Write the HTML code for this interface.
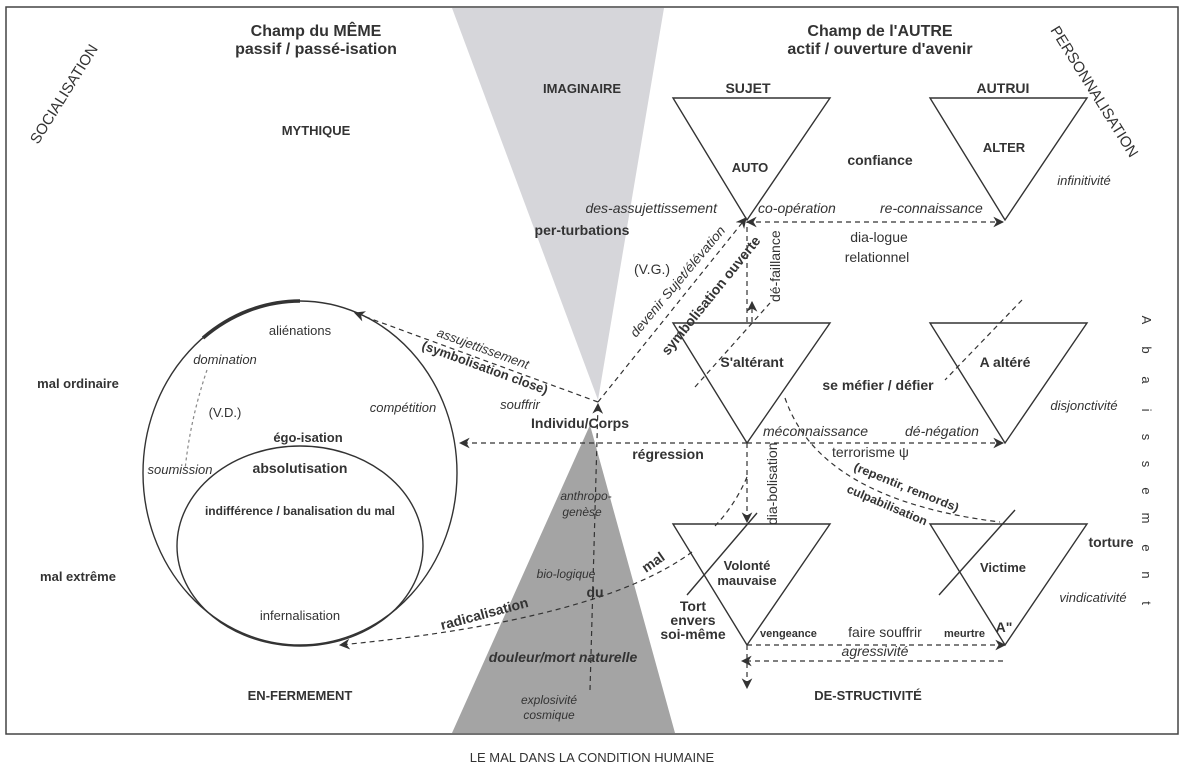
<!DOCTYPE html>
<html><head><meta charset="utf-8"><style>
html,body{margin:0;padding:0;background:#fff;}
svg{display:block;font-family:"Liberation Sans",sans-serif;}
.b{font-weight:bold;}
.i{font-style:italic;}
</style></head><body>
<svg width="1184" height="769" viewBox="0 0 1184 769" xmlns="http://www.w3.org/2000/svg">
<defs>
<marker id="a" viewBox="0 0 10 10" refX="9" refY="5" markerWidth="9" markerHeight="9" orient="auto-start-reverse"><path d="M0,0 L10,5 L0,10 L3,5 z" fill="#333"/></marker>
</defs>
<rect x="6" y="7" width="1172" height="727" fill="none" stroke="#444" stroke-width="1.5"/>
<polygon points="452,8 664,8 598,400" fill="#d6d6da"/>
<polygon points="590,425 452,733 675,733" fill="#a4a4a4"/>
<g fill="none" stroke="#333" stroke-width="1.4">
<polygon points="673,98 830,98 747,220"/>
<polygon points="930,98 1087,98 1005,220"/>
<polygon points="673,323 830,323 747,443"/>
<polygon points="930,323 1087,323 1005,443"/>
<polygon points="673,524 830,524 747,645"/>
<polygon points="930,524 1087,524 1005,645"/>
<ellipse cx="300" cy="473" rx="157" ry="172"/>
<ellipse cx="300" cy="546" rx="123" ry="100"/>
<path d="M203,338 A157,172 0 0 1 300,301" stroke-width="3.5"/>
<line x1="687" y1="595" x2="757" y2="513"/>
<line x1="939" y1="595" x2="1015" y2="510"/>
</g>
<g fill="none" stroke="#333" stroke-width="1.2" stroke-dasharray="5,4">
<line x1="598" y1="402" x2="355" y2="313" marker-end="url(#a)"/>
<line x1="598" y1="402" x2="746" y2="218" marker-end="url(#a)"/>
<line x1="747" y1="443" x2="460" y2="443" marker-end="url(#a)"/>
<line x1="747" y1="443" x2="1003" y2="443" marker-end="url(#a)"/>
<line x1="747" y1="443" x2="747" y2="522" marker-end="url(#a)"/>
<line x1="590" y1="690" x2="598" y2="404" marker-end="url(#a)"/>
<line x1="747" y1="222" x2="1003" y2="222" marker-start="url(#a)" marker-end="url(#a)"/>
<line x1="747" y1="322" x2="747" y2="222"/>
<line x1="752" y1="322" x2="752" y2="302" marker-end="url(#a)"/>
<line x1="695" y1="387" x2="770" y2="303"/>
<line x1="747" y1="645" x2="1005" y2="645" marker-end="url(#a)"/>
<line x1="1003" y1="661" x2="742" y2="661" marker-end="url(#a)"/>
<line x1="747" y1="645" x2="747" y2="688" marker-end="url(#a)"/>
<path d="M692,552 Q600,620 340,645" marker-end="url(#a)"/>
<path d="M747,477 Q735,505 715,526"/>
<path d="M785,398 Q820,500 1000,522"/>
<path d="M207,370 Q190,420 185,470" stroke="#888" stroke-dasharray="3,3"/>
<line x1="1022" y1="300" x2="945" y2="380"/>
</g>
<g fill="#333" font-size="14">
<text x="316" y="36" text-anchor="middle" class="b" font-size="16">Champ du MÊME</text>
<text x="316" y="54" text-anchor="middle" class="b" font-size="16">passif / passé-isation</text>
<text x="880" y="36" text-anchor="middle" class="b" font-size="16">Champ de l'AUTRE</text>
<text x="880" y="54" text-anchor="middle" class="b" font-size="16">actif / ouverture d'avenir</text>
<text transform="translate(38,145) rotate(-58)" font-size="15">SOCIALISATION</text>
<text transform="translate(1050,30) rotate(58)" font-size="15">PERSONNALISATION</text>
<text x="582" y="93" text-anchor="middle" class="b" font-size="13">IMAGINAIRE</text>
<text x="316" y="135" text-anchor="middle" class="b" font-size="13">MYTHIQUE</text>
<text x="748" y="93" text-anchor="middle" class="b">SUJET</text>
<text x="1003" y="93" text-anchor="middle" class="b">AUTRUI</text>
<text x="750" y="172" text-anchor="middle" class="b" font-size="13">AUTO</text>
<text x="1004" y="152" text-anchor="middle" class="b" font-size="13">ALTER</text>
<text x="880" y="165" text-anchor="middle" class="b">confiance</text>
<text x="1084" y="185" text-anchor="middle" class="i" font-size="13">infinitivité</text>
<text x="717" y="213" text-anchor="end" class="i">des-assujettissement</text>
<text x="758" y="213" class="i">co-opération</text>
<text x="880" y="213" class="i">re-connaissance</text>
<text x="582" y="235" text-anchor="middle" class="b">per-turbations</text>
<text x="879" y="242" text-anchor="middle">dia-logue</text>
<text x="877" y="262" text-anchor="middle">relationnel</text>
<text x="652" y="274" text-anchor="middle">(V.G.)</text>
<text transform="translate(636,338) rotate(-50)" class="i" font-size="13" textLength="140" lengthAdjust="spacingAndGlyphs">devenir Sujet/élévation</text>
<text transform="translate(668,356) rotate(-51)" class="b" font-size="14" textLength="148" lengthAdjust="spacingAndGlyphs">symbolisation ouverte</text>
<text transform="translate(780,302) rotate(-90)" font-size="14">dé-faillance</text>
<text x="752" y="367" text-anchor="middle" class="b">S'altérant</text>
<text x="1005" y="367" text-anchor="middle" class="b">A altéré</text>
<text x="878" y="390" text-anchor="middle" class="b">se méfier / défier</text>
<text x="1084" y="410" text-anchor="middle" class="i" font-size="13">disjonctivité</text>
<text transform="translate(436,336) rotate(20)" class="i" font-size="13">assujettissement</text>
<text transform="translate(421,349) rotate(20)" class="b" font-size="13">(symbolisation close)</text>
<text x="520" y="409" text-anchor="middle" class="i" font-size="13">souffrir</text>
<text x="580" y="428" text-anchor="middle" class="b">Individu/Corps</text>
<text x="668" y="459" text-anchor="middle" class="b">régression</text>
<text x="763" y="436" class="i">méconnaissance</text>
<text x="905" y="436" class="i">dé-négation</text>
<text x="832" y="457">terrorisme ψ</text>
<text transform="translate(853,470) rotate(22)" class="b" font-size="12" textLength="112" lengthAdjust="spacingAndGlyphs">(repentir, remords)</text>
<text transform="translate(846,492) rotate(23)" class="b" font-size="12" textLength="86" lengthAdjust="spacingAndGlyphs">culpabilisation</text>
<text transform="translate(777,525) rotate(-90)" font-size="14">dia-bolisation</text>
<text x="300" y="335" text-anchor="middle" font-size="13">aliénations</text>
<text x="225" y="364" text-anchor="middle" class="i" font-size="13">domination</text>
<text x="78" y="388" text-anchor="middle" class="b" font-size="13">mal ordinaire</text>
<text x="225" y="417" text-anchor="middle" font-size="13">(V.D.)</text>
<text x="403" y="412" text-anchor="middle" class="i" font-size="13">compétition</text>
<text x="308" y="442" text-anchor="middle" class="b" font-size="13">égo-isation</text>
<text x="180" y="474" text-anchor="middle" class="i" font-size="13">soumission</text>
<text x="300" y="473" text-anchor="middle" class="b" font-size="14">absolutisation</text>
<text x="300" y="515" text-anchor="middle" class="b" font-size="12">indifférence / banalisation du mal</text>
<text x="78" y="581" text-anchor="middle" class="b" font-size="13">mal extrême</text>
<text x="300" y="620" text-anchor="middle" font-size="13">infernalisation</text>
<text x="586" y="500" text-anchor="middle" class="i" font-size="12">anthropo-</text>
<text x="582" y="516" text-anchor="middle" class="i" font-size="12">genèse</text>
<text x="566" y="578" text-anchor="middle" class="i" font-size="12">bio-logique</text>
<text x="595" y="597" text-anchor="middle" class="b">du</text>
<text transform="translate(646,573) rotate(-35)" class="b">mal</text>
<text transform="translate(442,630) rotate(-15)" class="b">radicalisation</text>
<text x="563" y="662" text-anchor="middle" class="i b" font-size="14">douleur/mort naturelle</text>
<text x="549" y="704" text-anchor="middle" class="i" font-size="12">explosivité</text>
<text x="549" y="719" text-anchor="middle" class="i" font-size="12">cosmique</text>
<text x="300" y="700" text-anchor="middle" class="b" font-size="13">EN-FERMEMENT</text>
<text x="868" y="700" text-anchor="middle" class="b" font-size="13">DE-STRUCTIVITÉ</text>
<text x="747" y="570" text-anchor="middle" class="b" font-size="13">Volonté</text>
<text x="747" y="585" text-anchor="middle" class="b" font-size="13">mauvaise</text>
<text x="1003" y="572" text-anchor="middle" class="b" font-size="13">Victime</text>
<text x="1111" y="547" text-anchor="middle" class="b">torture</text>
<text x="1093" y="602" text-anchor="middle" class="i" font-size="13">vindicativité</text>
<text x="693" y="611" text-anchor="middle" class="b">Tort</text>
<text x="693" y="625" text-anchor="middle" class="b">envers</text>
<text x="693" y="639" text-anchor="middle" class="b">soi-même</text>
<text x="760" y="637" class="b" font-size="11">vengeance</text>
<text x="885" y="637" text-anchor="middle">faire souffrir</text>
<text x="944" y="637" class="b" font-size="11">meurtre</text>
<text x="1004" y="632" text-anchor="middle" class="b">A"</text>
<text x="875" y="656" text-anchor="middle" class="i">agressivité</text>
<text x="592" y="762" text-anchor="middle" font-size="13">LE MAL DANS LA CONDITION HUMAINE</text>
<g font-size="13" text-anchor="middle">
<text transform="translate(1142,320) rotate(90)">A</text>
<text transform="translate(1142,350) rotate(90)">b</text>
<text transform="translate(1142,380) rotate(90)">a</text>
<text transform="translate(1142,410) rotate(90)">i</text>
<text transform="translate(1142,437) rotate(90)">s</text>
<text transform="translate(1142,464) rotate(90)">s</text>
<text transform="translate(1142,491) rotate(90)">e</text>
<text transform="translate(1142,518) rotate(90)">m</text>
<text transform="translate(1142,548) rotate(90)">e</text>
<text transform="translate(1142,575) rotate(90)">n</text>
<text transform="translate(1142,603) rotate(90)">t</text>
</g>
</g>
</svg>
</body></html>
